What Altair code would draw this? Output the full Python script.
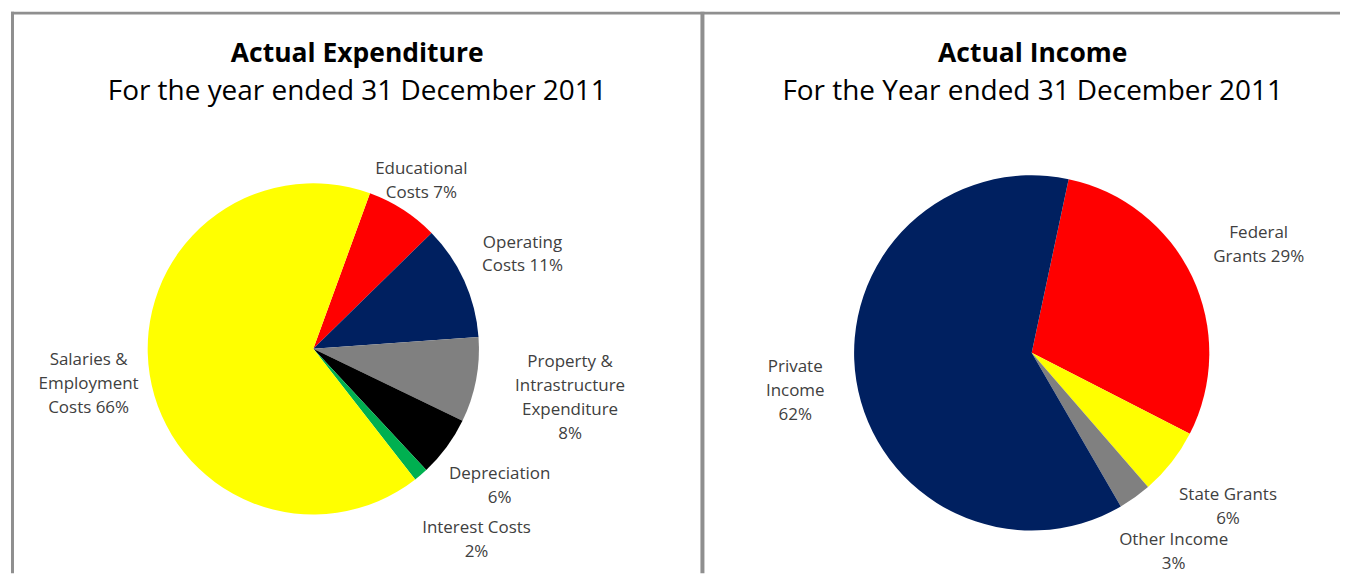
import altair as alt
import pandas as pd
import math

# ---- data ----
exp_categories = ["Educational Costs", "Operating Costs", "Property & Intrastructure Expenditure",
                  "Depreciation", "Interest Costs", "Salaries & Employment Costs"]
exp_values = [7.1, 11.2, 8.3, 5.9, 1.4, 66.1]
exp_labels = ["Educational\nCosts 7%", "Operating\nCosts 11%",
              "Property &\nIntrastructure\nExpenditure\n8%", "Depreciation\n6%",
              "Interest Costs\n2%", "Salaries &\nEmployment\nCosts 66%"]
exp_colors = ["#FF0000", "#002060", "#808080", "#000000", "#00B050", "#FFFF00"]
# label distance from the pie centre (px), like Excel's label placement
exp_label_dist = [200, 230, 262, 232, 252, 228]

inc_categories = ["Federal Grants", "State Grants", "Other Income", "Private Income"]
inc_values = [29.2, 6.1, 3.0, 61.7]
inc_labels = ["Federal\nGrants 29%", "State Grants\n6%", "Other Income\n3%", "Private\nIncome\n62%"]
inc_colors = ["#FF0000", "#FFFF00", "#808080", "#002060"]
inc_label_dist = [252, 250, 245, 240]

exp_df = pd.DataFrame({"cat": exp_categories, "val": exp_values, "label": exp_labels,
                       "idx": list(range(len(exp_categories)))})
inc_df = pd.DataFrame({"cat": inc_categories, "val": inc_values, "label": inc_labels,
                       "idx": list(range(len(inc_categories)))})

FONT = "Open Sans"
TXT = "#404040"
BORDER = "#8f8f8f"
W, H = 1332, 563
LH = 24


def pie(df, dist, colors, cx, cy, r, start_deg, tx, title, subtitle):
    df = df.assign(ldist=dist)
    start = math.radians(start_deg)
    total = float(df["val"].sum())
    sc = alt.Scale(domain=[0, total], range=[start, start + 2 * math.pi])
    base = alt.Chart(df).transform_stack(
        stack="val", as_=["v0", "v1"], groupby=[], sort=[alt.SortField("idx", order="ascending")]
    ).transform_calculate(
        mid="(datum.v0 + datum.v1) / 2",
        off=f"-(length(split(datum.label, '\\n')) - 1) * {LH / 2}",
    )
    arcs = base.mark_arc(outerRadius=r, stroke=None).encode(
        theta=alt.Theta("v0:Q", scale=sc, stack=None), theta2="v1:Q",
        x=alt.value(cx), y=alt.value(cy),
        color=alt.Color("cat:N", scale=alt.Scale(domain=list(df["cat"]), range=colors), legend=None),
    )
    labels = base.mark_text(font=FONT, fontSize=17, lineHeight=LH,
                            lineBreak="\n", color=TXT, align="center", baseline="middle").encode(
        theta=alt.Theta("mid:Q", scale=sc, stack=None),
        radius=alt.Radius("ldist:Q", scale=None),
        x=alt.value(cx), y=alt.value(cy), yOffset=alt.YOffset("off:Q", scale=None),
        text="label:N")
    t1 = alt.Chart(pd.DataFrame({"t": [title]})).mark_text(
        font=FONT, fontSize=26.5, fontWeight="bold", color="#000000", align="center", baseline="middle"
    ).encode(x=alt.value(tx), y=alt.value(42), text="t:N")
    t2 = alt.Chart(pd.DataFrame({"t": [subtitle]})).mark_text(
        font=FONT, fontSize=28, color="#000000", align="center", baseline="middle"
    ).encode(x=alt.value(tx), y=alt.value(81), text="t:N")
    return alt.layer(arcs, labels, t1, t2)


left = pie(exp_df, exp_label_dist, exp_colors, 303, 338, 166, 20, 347,
           "Actual Expenditure", "For the year ended 31 December 2011")
right = pie(inc_df, inc_label_dist, inc_colors, 1023, 342, 178, 12, 1024,
            "Actual Income", "For the Year ended 31 December 2011")

rule_df = pd.DataFrame({"k": [0]})
top_rule = alt.Chart(rule_df).mark_rule(color=BORDER, strokeWidth=3).encode(
    x=alt.value(0), x2=alt.value(W), y=alt.value(1.5))
left_rule = alt.Chart(rule_df).mark_rule(color=BORDER, strokeWidth=3).encode(
    x=alt.value(1.5), y=alt.value(0), y2=alt.value(H))
mid_rule = alt.Chart(rule_df).mark_rule(color=BORDER, strokeWidth=4).encode(
    x=alt.value(693), y=alt.value(0), y2=alt.value(H))

chart = alt.layer(left, right, top_rule, left_rule, mid_rule).resolve_scale(
    theta="independent", color="independent"
).properties(
    width=W, height=H, padding={"left": 1, "top": 1, "right": 0, "bottom": 0}
).configure_view(stroke=None)

chart.save("out.html", embed_options={"renderer": "svg", "actions": False})
